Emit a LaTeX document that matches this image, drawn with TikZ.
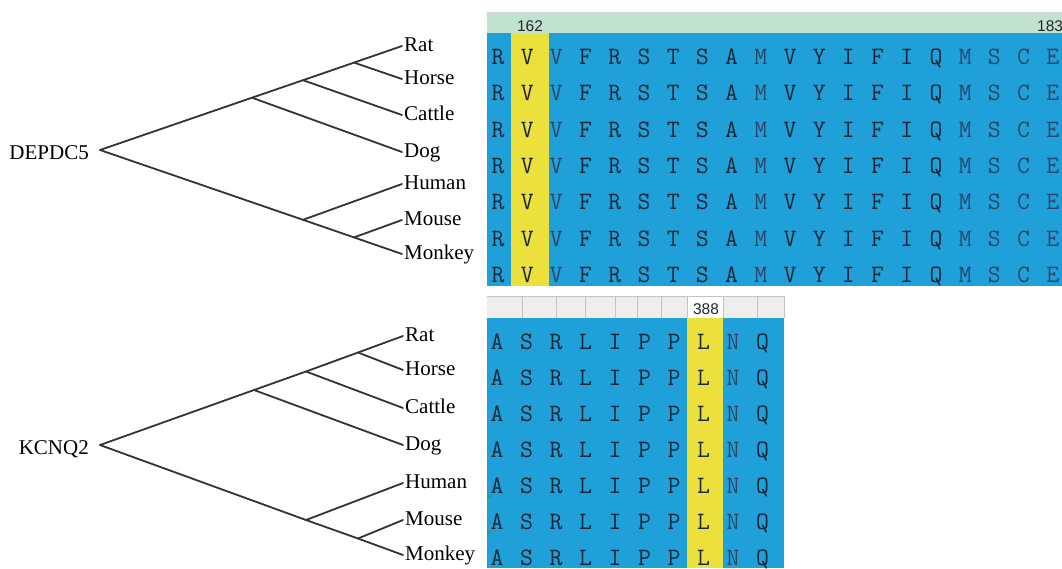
\documentclass[tikz,border=0pt]{standalone}
\usepackage{fontspec}
\setmainfont{Liberation Serif}
\newfontfamily\numfont{Liberation Sans}

\definecolor{treegray}{HTML}{333333}
\definecolor{seqblue}{HTML}{20A0D8}
\definecolor{hiyellow}{HTML}{ECE03C}
\definecolor{headgreen}{HTML}{C2E2D0}
\definecolor{headgray}{HTML}{EEEEEE}
\definecolor{gridgray}{HTML}{C4C4C4}
\definecolor{resdark}{HTML}{1C2636}
\definecolor{reslight}{HTML}{2C4668}
\definecolor{markgreen}{HTML}{3C9A3C}

\begin{document}
\begin{tikzpicture}[x=1pt,y=-1pt,
  branch/.style={draw=treegray,line width=1.8pt,line cap=round},
  taxon/.style={anchor=mid west,inner sep=2pt,yshift=-3.5pt,font=\fontsize{21}{21}\selectfont},
  genelabel/.style={anchor=base east,inner sep=0pt,font=\fontsize{21}{21}\selectfont},
  residue/.style={anchor=base,inner sep=0pt,font=\ttfamily\fontsize{25}{25}\selectfont},
  colnum/.style={inner sep=0pt,font=\numfont\fontsize{15.5}{15.5}\selectfont,text=black!85}]

\clip (0,0) rectangle (1062,568);
\fill[white] (0,0) rectangle (1062,568);

% ---------- DEPDC5 tree ----------
\coordinate (r1) at (100,150);
\coordinate (a1) at (252,97.7);
\coordinate (b1) at (303,80.2);
\coordinate (c1) at (354,62.6);
\coordinate (d1) at (303,219.8);
\coordinate (e1) at (354,237.4);
\coordinate (rat1) at (402,46);
\coordinate (horse1) at (402,79);
\coordinate (cattle1) at (402,115);
\coordinate (dog1) at (402,152);
\coordinate (human1) at (402,184);
\coordinate (mouse1) at (402,220);
\coordinate (monkey1) at (402,254);

\draw[branch] (r1) -- (a1) -- (b1) -- (c1) -- (rat1);
\draw[branch] (c1) -- (horse1);
\draw[branch] (b1) -- (cattle1);
\draw[branch] (a1) -- (dog1);
\draw[branch] (r1) -- (d1) -- (e1) -- (monkey1);
\draw[branch] (d1) -- (human1);
\draw[branch] (e1) -- (mouse1);

\node[genelabel] (g1) at ([xshift=-11pt,yshift=-9pt]r1) {DEPDC5};
\node[taxon] (t1rat) at (rat1) {Rat};
\node[taxon] (t1horse) at (horse1) {Horse};
\node[taxon] (t1cattle) at (cattle1) {Cattle};
\node[taxon] (t1dog) at (dog1) {Dog};
\node[taxon] (t1human) at (human1) {Human};
\node[taxon] (t1mouse) at (mouse1) {Mouse};
\node[taxon] (t1monkey) at (monkey1) {Monkey};

% ---------- KCNQ2 tree ----------
\coordinate (r2) at (100,445);
\coordinate (a2) at (254,390);
\coordinate (b2) at (306,371.5);
\coordinate (c2) at (358,352.5);
\coordinate (d2) at (306,520);
\coordinate (e2) at (358,538.5);
\coordinate (rat2) at (403,336);
\coordinate (horse2) at (403,370);
\coordinate (cattle2) at (403,408);
\coordinate (dog2) at (403,445);
\coordinate (human2) at (403,483);
\coordinate (mouse2) at (403,520);
\coordinate (monkey2) at (403,555);

\draw[branch] (r2) -- (a2) -- (b2) -- (c2) -- (rat2);
\draw[branch] (c2) -- (horse2);
\draw[branch] (b2) -- (cattle2);
\draw[branch] (a2) -- (dog2);
\draw[branch] (r2) -- (d2) -- (e2) -- (monkey2);
\draw[branch] (d2) -- (human2);
\draw[branch] (e2) -- (mouse2);

\node[genelabel] (g2) at ([xshift=-11pt,yshift=-9.5pt]r2) {KCNQ2};
\node[taxon] (t2rat) at (rat2) {Rat};
\node[taxon] (t2horse) at (horse2) {Horse};
\node[taxon] (t2cattle) at (cattle2) {Cattle};
\node[taxon] (t2dog) at (dog2) {Dog};
\node[taxon] (t2human) at (human2) {Human};
\node[taxon] (t2mouse) at (mouse2) {Mouse};
\node[taxon] (t2monkey) at (monkey2) {Monkey};

% ---------- DEPDC5 alignment, positions 162-183 ----------
\fill[headgreen] (487,12) rectangle (1062,33);
\draw[gridgray!70,line width=0.6pt] (487,12.3) -- (1062,12.3);
\fill[seqblue] (487,33) rectangle (1062,286);
\fill[hiyellow] (511,33) rectangle (549,286);
\node[colnum,anchor=base] (n162) at (530,31.5) {162};
\node[colnum,anchor=base west] (n183) at (1037,31.5) {183};
\foreach \row in {0,...,6}{
  \foreach [count=\col from 0] \aa/\tone in {R/resdark,V/resdark,V/reslight,F/resdark,R/resdark,
      S/resdark,T/resdark,S/resdark,A/resdark,M/reslight,V/resdark,Y/resdark,I/resdark,F/resdark,
      I/resdark,Q/resdark,M/reslight,S/reslight,C/reslight,E/reslight}{
    \node[residue,text=\tone] (p\row-\col) at ({498+29.2*\col},{64.5+36.3*\row}) {\aa};
  }
}

% ---------- KCNQ2 alignment, position 388 ----------
\fill[headgray] (487,296) rectangle (784,318);
\fill[white] (687,296) rectangle (723,318);
\draw[gridgray,line width=0.7pt] (487,296.4) -- (784,296.4);
\foreach \gx in {522,556,585,615,637,661,687,723,757,784}{
  \draw[gridgray,line width=0.7pt] (\gx,296) -- (\gx,318);
}
\fill[seqblue] (487,318) rectangle (784,568);
\fill[hiyellow] (687,318) rectangle (723,568);
\node[colnum,anchor=base] (n388) at (706,314) {388};
\foreach \row in {0,...,6}{
  \foreach [count=\col from 0] \aa/\tone in {A/resdark,S/resdark,R/resdark,L/resdark,I/resdark,
      P/resdark,P/resdark,L/resdark,N/reslight,Q/resdark}{
    \node[residue,text=\tone] (q\row-\col) at ({497+29.5*\col},{349.5+36*\row}) {\aa};
  }
}
\fill[markgreen] (487,494) -- (491,496) -- (487,499) -- cycle;
\fill[markgreen] (487,530) -- (491,532) -- (487,535) -- cycle;

\end{tikzpicture}
\end{document}
